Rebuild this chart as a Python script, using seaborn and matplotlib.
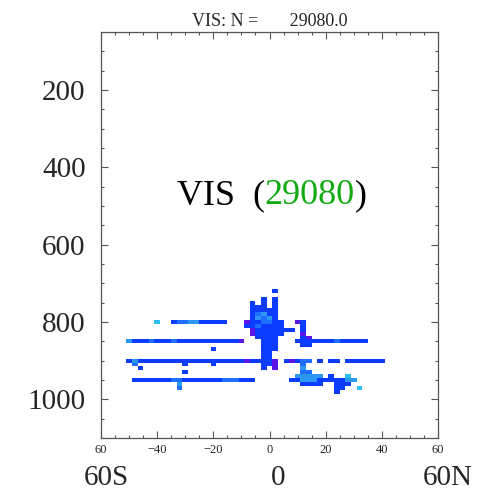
import numpy as np
import pandas as pd
import matplotlib
matplotlib.use("Agg")
import matplotlib.pyplot as plt
import matplotlib.transforms as mtransforms
from matplotlib.colors import LinearSegmentedColormap
import seaborn as sns

# ---------------- data ----------------
LAT_CENTERS = np.arange(-60, 61, 2)      # 2-degree latitude bins
P_CENTERS = np.arange(50, 1101, 10)      # 10 hPa pressure bins

P_, B_, M_, L_, C_ = 10, 30, 50, 70, 90

# runs of cells: pressure, first latitude, last latitude, count level
RUN_P = [
    720, 740, 740, 750, 750, 750, 760, 760, 770,
    780, 780, 780, 780, 790, 790, 790, 790, 790,
    800, 800, 800, 800, 810, 810, 810, 810,
    820, 820, 830, 830, 840, 850, 860, 870, 880, 890,
    900, 900, 910, 910, 920, 920,
    800, 800, 800, 800, 800,
    850, 850, 850, 850, 850, 850, 850, 850, 870,
    900, 900, 900, 900, 900, 910, 910, 910, 920, 930,
    950, 950, 950, 950, 950, 960, 970,
    800, 800, 810, 820, 830, 840, 840,
    850, 850, 850, 860,
    900, 900, 900, 900, 900, 900, 900,
    910, 920, 930, 940, 940, 940, 940,
    950, 950, 950, 950, 960, 960, 970, 970, 980,
]
RUN_LAT_FROM = [
    2, -2, 2, -6, -2, 2, -6, 2, -6,
    -6, -4, -2, 0, -6, -4, -2, 0, 2,
    -8, -6, -2, 2, -8, -6, -4, -2,
    -6, -4, -6, -4, -4, -2, -2, -2, -2, -2,
    -4, 2, -2, 2, -2, 2,
    -40, -34, -32, -28, -24,
    -50, -48, -42, -40, -34, -32, -10, -10, -20,
    -50, -48, -46, -8, -6, -48, -30, -20, -46, -30,
    -48, -34, -30, -16, -10, -32, -32,
    10, 12, 12, 12, 12, 12, 14,
    10, 24, 26, 12,
    6, 8, 10, 12, 18, 22, 28,
    12, 12, 12, 10, 14, 22, 28,
    8, 12, 18, 28, 12, 24, 24, 32, 24,
]
RUN_LAT_TO = [
    2, -2, 2, -6, -2, 2, -2, 2, 2,
    -6, -4, -2, 2, -6, -4, -2, 0, 2,
    -8, -4, 0, 4, -8, -6, -4, 4,
    -6, 8, -6, 4, 2, 2, 2, 2, 0, 0,
    0, 2, 0, 2, -2, 2,
    -40, -34, -30, -26, -16,
    -50, -44, -42, -36, -34, -12, -10, -10, -20,
    -50, -48, -10, -8, -6, -48, -30, -20, -46, -30,
    -36, -32, -18, -12, -6, -32, -32,
    10, 12, 12, 12, 12, 12, 14,
    22, 24, 34, 14,
    6, 8, 10, 14, 18, 24, 40,
    12, 12, 14, 12, 18, 22, 28,
    10, 16, 26, 30, 18, 28, 26, 32, 24,
]
RUN_COUNT = [
    B_, B_, B_, B_, B_, B_, B_, B_, B_,
    B_, M_, L_, B_, B_, L_, M_, L_, B_,
    P_, B_, M_, B_, B_, B_, M_, B_,
    P_, B_, P_, B_, B_, B_, B_, B_, B_, B_,
    B_, P_, B_, P_, B_, P_,
    C_, B_, M_, L_, B_,
    L_, B_, M_, B_, M_, B_, P_, P_, B_,
    B_, L_, B_, P_, B_, M_, B_, B_, B_, B_,
    B_, M_, B_, M_, B_, L_, M_,
    P_, B_, B_, B_, P_, B_, P_,
    B_, M_, B_, B_,
    B_, P_, B_, M_, B_, B_, B_,
    M_, L_, M_, L_, L_, B_, C_,
    B_, L_, B_, L_, B_, B_, B_, C_, B_,
]

TITLE = "VIS: N =       29080.0"
NAME = "VIS"
N_OBS = "29080"
X_TICKS = [-60, -40, -20, 0, 20, 40, 60]
X_TICK_LABELS = ["60", "\u221240", "\u221220", "0", "20", "40", "60"]
Y_TICKS = [200, 400, 600, 800, 1000]
BOTTOM_LABELS = ["60S", "0", "60N"]
BOTTOM_LAT = [-58, 3, 63.5]

# ---------------- grid ----------------
grid = pd.DataFrame(np.nan, index=P_CENTERS, columns=LAT_CENTERS)
for p, a, b, c in zip(RUN_P, RUN_LAT_FROM, RUN_LAT_TO, RUN_COUNT):
    grid.loc[p, a:b] = c

# ---------------- style ----------------
sns.set_style("ticks")
plt.rcParams["font.family"] = ["Liberation Serif", "DejaVu Serif"]

cmap = LinearSegmentedColormap.from_list(
    "vis",
    [(0.0, "#5a14e6"), (0.1, "#5a14e6"), (0.3, "#0a3cff"),
     (0.5, "#1e6eff"), (0.7, "#2c98f4"), (0.9, "#2cc0ee"), (1.0, "#2cc0ee")],
)

fig = plt.figure(figsize=(4.92, 4.92), dpi=100)
ax = fig.add_axes([101 / 492, (492 - 438) / 492, 337 / 492, 406 / 492])

sns.heatmap(grid, ax=ax, cmap=cmap, vmin=0, vmax=100, cbar=False,
            xticklabels=False, yticklabels=False, linewidths=0)


def xpos(lat):
    return (np.asarray(lat, dtype=float) + 60) / 2 + 0.5


def ypos(p):
    return (np.asarray(p, dtype=float) - 50) / 10 + 0.5


ax.set_xlim(xpos(-60), xpos(60))
ax.set_ylim(ypos(1100), ypos(50))

ax.set_xticks(xpos(X_TICKS))
ax.set_xticklabels(X_TICK_LABELS, rotation=0)
ax.set_xticks(xpos(np.arange(-60, 61, 5)), minor=True)
ax.set_yticks(ypos(Y_TICKS))
ax.set_yticklabels([str(v) for v in Y_TICKS], rotation=0)
ax.set_yticks(ypos(np.arange(100, 1100, 50)), minor=True)

edge = "#555555"
for sp in ax.spines.values():
    sp.set_visible(True)
    sp.set_color(edge)
    sp.set_linewidth(0.9)

ax.tick_params(which="both", direction="in", top=True, right=True,
               bottom=True, left=True, color=edge, width=0.8)
ax.tick_params(which="major", length=5)
ax.tick_params(which="minor", length=2.5)
ax.tick_params(axis="x", which="major", labelsize=9, pad=4)
ax.tick_params(axis="y", which="major", labelsize=21, pad=11)
ax.set_xlabel("")
ax.set_ylabel("")

ax.set_title(TITLE, fontsize=13, pad=4)

# centred "VIS (29080)" label with green count
t1 = ax.text(xpos(-33), ypos(474), NAME + "  (", fontsize=26,
             color="black", ha="left", va="center")
t2 = ax.annotate(N_OBS, xy=(1, 0), xycoords=t1, fontsize=26,
                 color="#11aa11", ha="left", va="bottom")
ax.annotate(")", xy=(1, 0), xycoords=t2, fontsize=26,
            color="black", ha="left", va="bottom")

trans = mtransforms.blended_transform_factory(ax.transData, ax.transAxes)
for lab, lat in zip(BOTTOM_LABELS, BOTTOM_LAT):
    ax.text(xpos(lat), -0.098, lab, transform=trans, fontsize=21,
            ha="center", va="center", clip_on=False)

fig.savefig("out.png", dpi=100)
